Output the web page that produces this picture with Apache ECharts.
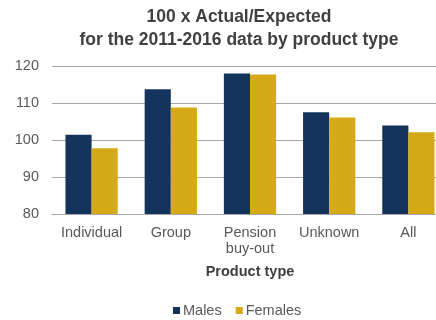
<!DOCTYPE html>
<html>
<head>
<meta charset="utf-8">
<script src="https://cdn.jsdelivr.net/npm/echarts@6/dist/echarts.min.js"></script>
<style>
html,body{margin:0;padding:0;background:#fff;}
#chart{width:436px;height:320px;}
</style>
</head>
<body>
<div id="chart"></div>
<script>
// Product types on the category axis
const categories = ['Individual', 'Group', 'Pension\nbuy-out', 'Unknown', 'All'];
// 100 x Actual/Expected, by sex
const males = [101.4, 113.7, 118.0, 107.5, 103.9];
const females = [97.8, 108.8, 117.7, 106.1, 102.1];
// Value axis range and step
const yMin = 80;
const yMax = 120;
const yStep = 10;

const chart = echarts.init(document.getElementById('chart'), null, { renderer: 'canvas' });
const font = 'Liberation Sans, Arial, sans-serif';

chart.setOption({
  animation: false,
  title: {
    text: '100 x Actual/Expected\nfor the 2011-2016 data by product type',
    left: 234,
    textAlign: 'center',
    top: 1,
    textStyle: { fontFamily: font, fontSize: 17.5, fontWeight: 'bold', color: '#404040', lineHeight: 23 }
  },
  legend: {
    data: ['Males', 'Females'],
    top: 298,
    left: 168,
    itemWidth: 7,
    itemHeight: 7,
    itemGap: 14,
    icon: 'rect',
    textStyle: { fontFamily: font, fontSize: 14.5, color: '#595959', padding: [0, 0, 0, -2] }
  },
  // the plot runs past the right edge, so the last group sits near the border
  grid: { left: 52, right: -12, top: 66, bottom: 106, containLabel: false, outerBoundsMode: 'none' },
  xAxis: {
    type: 'category',
    data: categories,
    name: 'Product type',
    nameLocation: 'middle',
    nameGap: 50,
    nameTextStyle: { fontFamily: font, fontSize: 14.5, fontWeight: 'bold', color: '#404040' },
    axisLine: { lineStyle: { color: '#a6a6a6', width: 1 } },
    axisTick: { show: false },
    axisLabel: { fontFamily: font, fontSize: 14.5, color: '#595959', margin: 11, lineHeight: 16, interval: 0 }
  },
  yAxis: {
    type: 'value',
    min: yMin,
    max: yMax,
    interval: yStep,
    axisLine: { show: false },
    axisTick: { show: false },
    axisLabel: { fontFamily: font, fontSize: 14.5, color: '#595959', margin: 13 },
    splitLine: { lineStyle: { color: '#a6a6a6', width: 1 } }
  },
  series: [
    {
      name: 'Males',
      type: 'bar',
      data: males,
      barGap: '0%',
      barCategoryGap: '34%',
      itemStyle: { color: '#14335c' }
    },
    {
      name: 'Females',
      type: 'bar',
      data: females,
      itemStyle: { color: '#d6a916' }
    }
  ]
});
</script>
</body>
</html>
